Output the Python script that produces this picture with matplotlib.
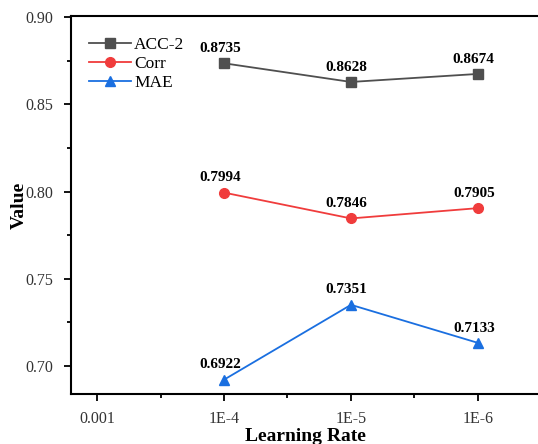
import matplotlib.pyplot as plt

lr_labels = ["0.001", "1E-4", "1E-5", "1E-6"]
pos = [1, 2, 3]
acc2 = [0.8735, 0.8628, 0.8674]
corr = [0.7994, 0.7846, 0.7905]
mae = [0.6922, 0.7351, 0.7133]

plt.rcParams["font.family"] = ["Liberation Serif", "DejaVu Serif"]

fig = plt.figure(figsize=(5.38, 4.44), dpi=100)
ax = fig.add_axes([0.132, 0.1126, 0.918, 0.8514])

series = [("ACC-2", acc2, "#4f4f4f", "s", 6.5),
          ("Corr", corr, "#f03c3c", "o", 7),
          ("MAE", mae, "#1a6fe0", "^", 7.5)]
for name, vals, col, mk, ms in series:
    ax.plot(pos, vals, color=col, marker=mk, markersize=ms, lw=1.3, label=name)
    for x, y in zip(pos, vals):
        ax.annotate("%.4f" % y, (x, y), xytext=(-3, 6), textcoords="offset points",
                    ha="center", va="bottom", fontsize=11, fontweight="bold")

ax.set_xlim(-0.205, 3.685)
ax.set_ylim(0.684, 0.9006)
ax.set_xticks(range(len(lr_labels)))
ax.set_xticklabels(lr_labels)
ax.set_xticks([0.5, 1.5, 2.5, 3.5], minor=True)
ax.set_yticks([0.70, 0.75, 0.80, 0.85, 0.90])
ax.set_yticklabels(["0.70", "0.75", "0.80", "0.85", "0.90"])
ax.set_yticks([0.725, 0.775, 0.825, 0.875], minor=True)
ax.tick_params(which="major", length=5, width=1.3, labelsize=11.5, colors="black")
ax.tick_params(axis="x", which="major", pad=7)
ax.tick_params(axis="y", which="major", pad=8)
ax.tick_params(which="minor", length=3, width=1.3)
for tl in ax.get_xticklabels() + ax.get_yticklabels():
    tl.set_color("#333333")

for s in ["left", "top", "bottom"]:
    ax.spines[s].set_linewidth(1.5)
ax.spines["right"].set_visible(False)

ax.set_ylabel("Value", fontsize=14, fontweight="bold")
ax.yaxis.set_label_coords(-0.088, 0.5)
ax.set_xlabel("Learning Rate", fontsize=14, fontweight="bold")
ax.xaxis.set_label_coords(0.474, -0.09)

ax.legend(loc="upper left", frameon=False, fontsize=12.5, handlelength=2.4,
          handletextpad=0.2, labelspacing=0.15, bbox_to_anchor=(0.005, 0.985))

fig.savefig("out.png", dpi=100)
